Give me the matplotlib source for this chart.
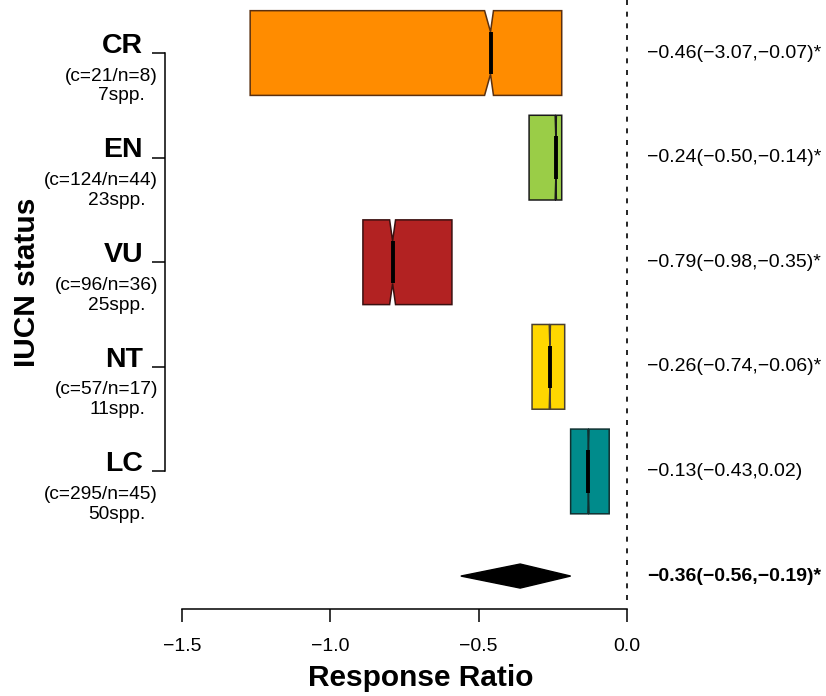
import matplotlib
matplotlib.use("Agg")
import matplotlib.pyplot as plt
from matplotlib.patches import Polygon

plt.rcParams['font.family'] = ['Liberation Sans', 'DejaVu Sans']

# IUCN categories, top to bottom
status = ['CR', 'EN', 'VU', 'NT', 'LC']
counts = ['(c=21/n=8)', '(c=124/n=44)', '(c=96/n=36)', '(c=57/n=17)', '(c=295/n=45)']
species = ['7spp.', '23spp.', '25spp.', '11spp.', '50spp.']

# box limits, medians and notch limits (response ratio)
box_lo = [-1.27, -0.33, -0.89, -0.32, -0.19]
box_hi = [-0.22, -0.22, -0.59, -0.21, -0.06]
medians = [-0.46, -0.24, -0.79, -0.26, -0.13]
notch_lo = [-0.48, -0.242, -0.80, -0.262, -0.132]
notch_hi = [-0.45, -0.238, -0.78, -0.258, -0.128]

# effect sizes with CI printed on the right
effects = ['\u22120.46(\u22123.07,\u22120.07)*', '\u22120.24(\u22120.50,\u22120.14)*',
           '\u22120.79(\u22120.98,\u22120.35)*', '\u22120.26(\u22120.74,\u22120.06)*',
           '\u22120.13(\u22120.43,0.02)']

# overall estimate (diamond)
overall = -0.36
overall_ci = (-0.56, -0.19)
overall_label = '\u22120.36(\u22120.56,\u22120.19)*'

xticks = [-1.5, -1.0, -0.5, 0.0]
xticklabels = ['\u22121.5', '\u22121.0', '\u22120.5', '0.0']

colors = ['#FF8C00', '#9ACD47', '#B22222', '#FFD700', '#008B8B']
edges = ['#5a3010', '#1a1a1a', '#3a1010', '#4a4030', '#103030']

fig = plt.figure(figsize=(8.26, 6.96), dpi=100)
ax = fig.add_axes([165 / 826, 87 / 696, (700 - 165) / 826, 609 / 696])
ax.set_xlim(-1.557, 0.246)
ax.set_ylim(6.315, 0.493)

w = 0.405
for i in range(len(status)):
    y = i + 1
    top, bot = y - w, y + w
    pts = [(box_lo[i], top), (notch_lo[i], top), (medians[i], top + w / 2),
           (notch_hi[i], top), (box_hi[i], top), (box_hi[i], bot),
           (notch_hi[i], bot), (medians[i], bot - w / 2), (notch_lo[i], bot),
           (box_lo[i], bot)]
    ax.add_patch(Polygon(pts, closed=True, facecolor=colors[i],
                         edgecolor=edges[i], linewidth=1.1, zorder=2))
    ax.plot([medians[i], medians[i]], [top + w / 2, bot - w / 2],
            color='black', linewidth=2.8, solid_capstyle='butt', zorder=3)
    # labels on the left
    ax.text(-1.631, y - 0.07, status[i], ha='right', va='center',
            fontsize=20.5, fontweight='bold')
    ax.text(-1.581, y + 0.22, counts[i], ha='right', va='center', fontsize=13.8)
    ax.text(-1.624, y + 0.41, species[i], ha='right', va='center', fontsize=13.8)
    # effect sizes on the right
    ax.text(0.067, y, effects[i], ha='left', va='center', fontsize=14)

# overall diamond
yd = len(status) + 1
hd = 0.115
ax.add_patch(Polygon([(overall_ci[0], yd), (overall, yd - hd), (overall_ci[1], yd),
                      (overall, yd + hd)], closed=True, facecolor='black',
                     edgecolor='black', zorder=3))
ax.text(0.067, yd, overall_label, ha='left', va='center', fontsize=14,
        fontweight='bold')

# zero line
ax.plot([0, 0], [0.493, 6.23], color='black', linestyle=(0, (3, 4)),
        linewidth=1.2, zorder=1)

# axes in R style
for s in ['top', 'right']:
    ax.spines[s].set_visible(False)
ax.spines['bottom'].set_bounds(-1.5, 0)
ax.spines['left'].set_bounds(1, 5)
ax.spines['bottom'].set_linewidth(1.1)
ax.spines['left'].set_linewidth(1.1)
ax.set_xticks(xticks)
ax.set_xticklabels(xticklabels, fontsize=14)
ax.set_yticks(range(1, len(status) + 1))
ax.set_yticklabels([])
ax.tick_params(axis='x', length=9, width=1.1, pad=12)
ax.tick_params(axis='y', length=9.5, width=1.1)

fig.text(421 / 826, 1 - 678 / 696, 'Response Ratio', ha='center', va='center',
         fontsize=21.5, fontweight='bold')
fig.text(27 / 826, 1 - 282 / 696, 'IUCN status', ha='center', va='center',
         rotation=90, fontsize=21.5, fontweight='bold')

fig.savefig('out.png', dpi=100)
